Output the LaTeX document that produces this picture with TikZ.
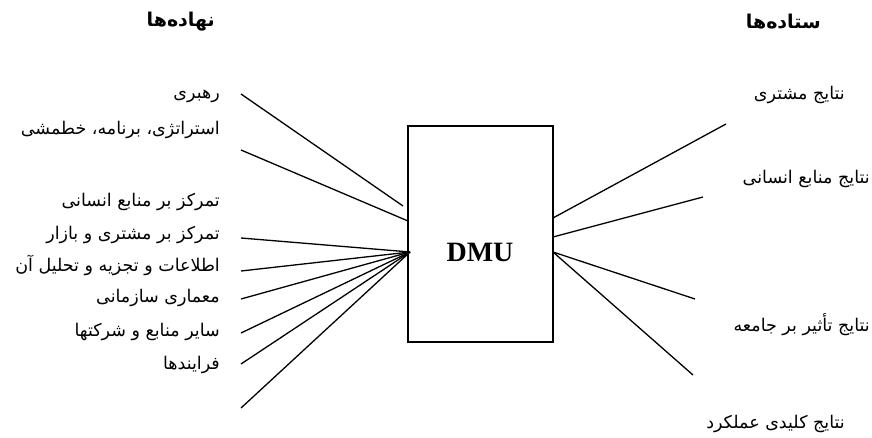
\documentclass[tikz,border=0pt]{standalone}
\usepackage{fontspec}
\newfontfamily\fa[Script=Arabic]{DejaVu Sans}
\newfontfamily\dmufont{Liberation Serif}
\TeXXeTstate=1
\begin{document}
\begin{tikzpicture}[x=1pt,y=-1pt,
  lab/.style={font=\fa\fontsize{17.5}{20}\selectfont, inner sep=0pt},
  ttl/.style={font=\fa\bfseries\fontsize{19}{22}\selectfont, inner sep=0pt},
  ln/.style={line width=1.3pt, black},
  box/.style={draw, line width=1.3pt, minimum width=145pt, minimum height=216pt, inner sep=0pt}]
\useasboundingbox (0,0) rectangle (872,438);
% box
\node[box] (dmu) at (480.5,234) {};
\node[font=\dmufont\bfseries\fontsize{28}{30}\selectfont, inner sep=0pt] (dmut) at (480,252) {DMU};
% titles
\node[ttl, anchor=east] (tin) at (215,22) {\beginR نهاده‌ها\endR};
\node[ttl, anchor=east] (tout) at (821,22) {\beginR ستاده‌ها\endR};
% left labels
\node[lab, anchor=east] (l1) at (220,96) {\beginR رهبری\endR};
\node[lab, anchor=east] (l2) at (220,130) {\beginR استراتژی، برنامه، خطمشی\endR};
\node[lab, anchor=east] (l3) at (220,202) {\beginR تمرکز بر منابع انسانی\endR};
\node[lab, anchor=east] (l4) at (220,235) {\beginR تمرکز بر مشتری و بازار\endR};
\node[lab, anchor=east] (l5) at (220,265) {\beginR اطلاعات و تجزیه و تحلیل آن\endR};
\node[lab, anchor=east] (l6) at (220,298) {\beginR معماری سازمانی\endR};
\node[lab, anchor=east] (l7) at (220,332) {\beginR سایر منابع و شرکتها\endR};
\node[lab, anchor=east] (l8) at (220,365) {\beginR فرایندها\endR};
% right labels
\node[lab, anchor=east] (r1) at (845,95) {\beginR نتایج مشتری\endR};
\node[lab, anchor=east] (r2) at (870,179) {\beginR نتایج منابع انسانی\endR};
\node[lab, anchor=east] (r3) at (870,325) {\beginR نتایج تأثیر بر جامعه\endR};
\node[lab, anchor=east] (r4) at (845,424) {\beginR نتایج کلیدی عملکرد\endR};
% connector end points
\coordinate (a1) at (241,94);
\coordinate (a2) at (241,150);
\coordinate (a3) at (241,238);
\coordinate (a4) at (241,271);
\coordinate (a5) at (241,299);
\coordinate (a6) at (241,333);
\coordinate (a7) at (241,364);
\coordinate (a8) at (241,408);
\coordinate (e1) at (403,206);
\coordinate (e2) at (408,221);
\coordinate (conv) at (410,252);
\coordinate (s1) at (553,218);
\coordinate (s2) at (553,237);
\coordinate (s3) at (553,252);
\coordinate (b1) at (726,124);
\coordinate (b2) at (703,197);
\coordinate (b3) at (695,299);
\coordinate (b4) at (693,375);
% connectors
\draw[ln] (a1) -- (e1);
\draw[ln] (a2) -- (e2);
\foreach \i in {3,...,8} { \draw[ln] (a\i) -- (conv); }
\draw[ln] (s1) -- (b1);
\draw[ln] (s2) -- (b2);
\draw[ln] (s3) -- (b3);
\draw[ln] (s3) -- (b4);
\end{tikzpicture}
\end{document}
